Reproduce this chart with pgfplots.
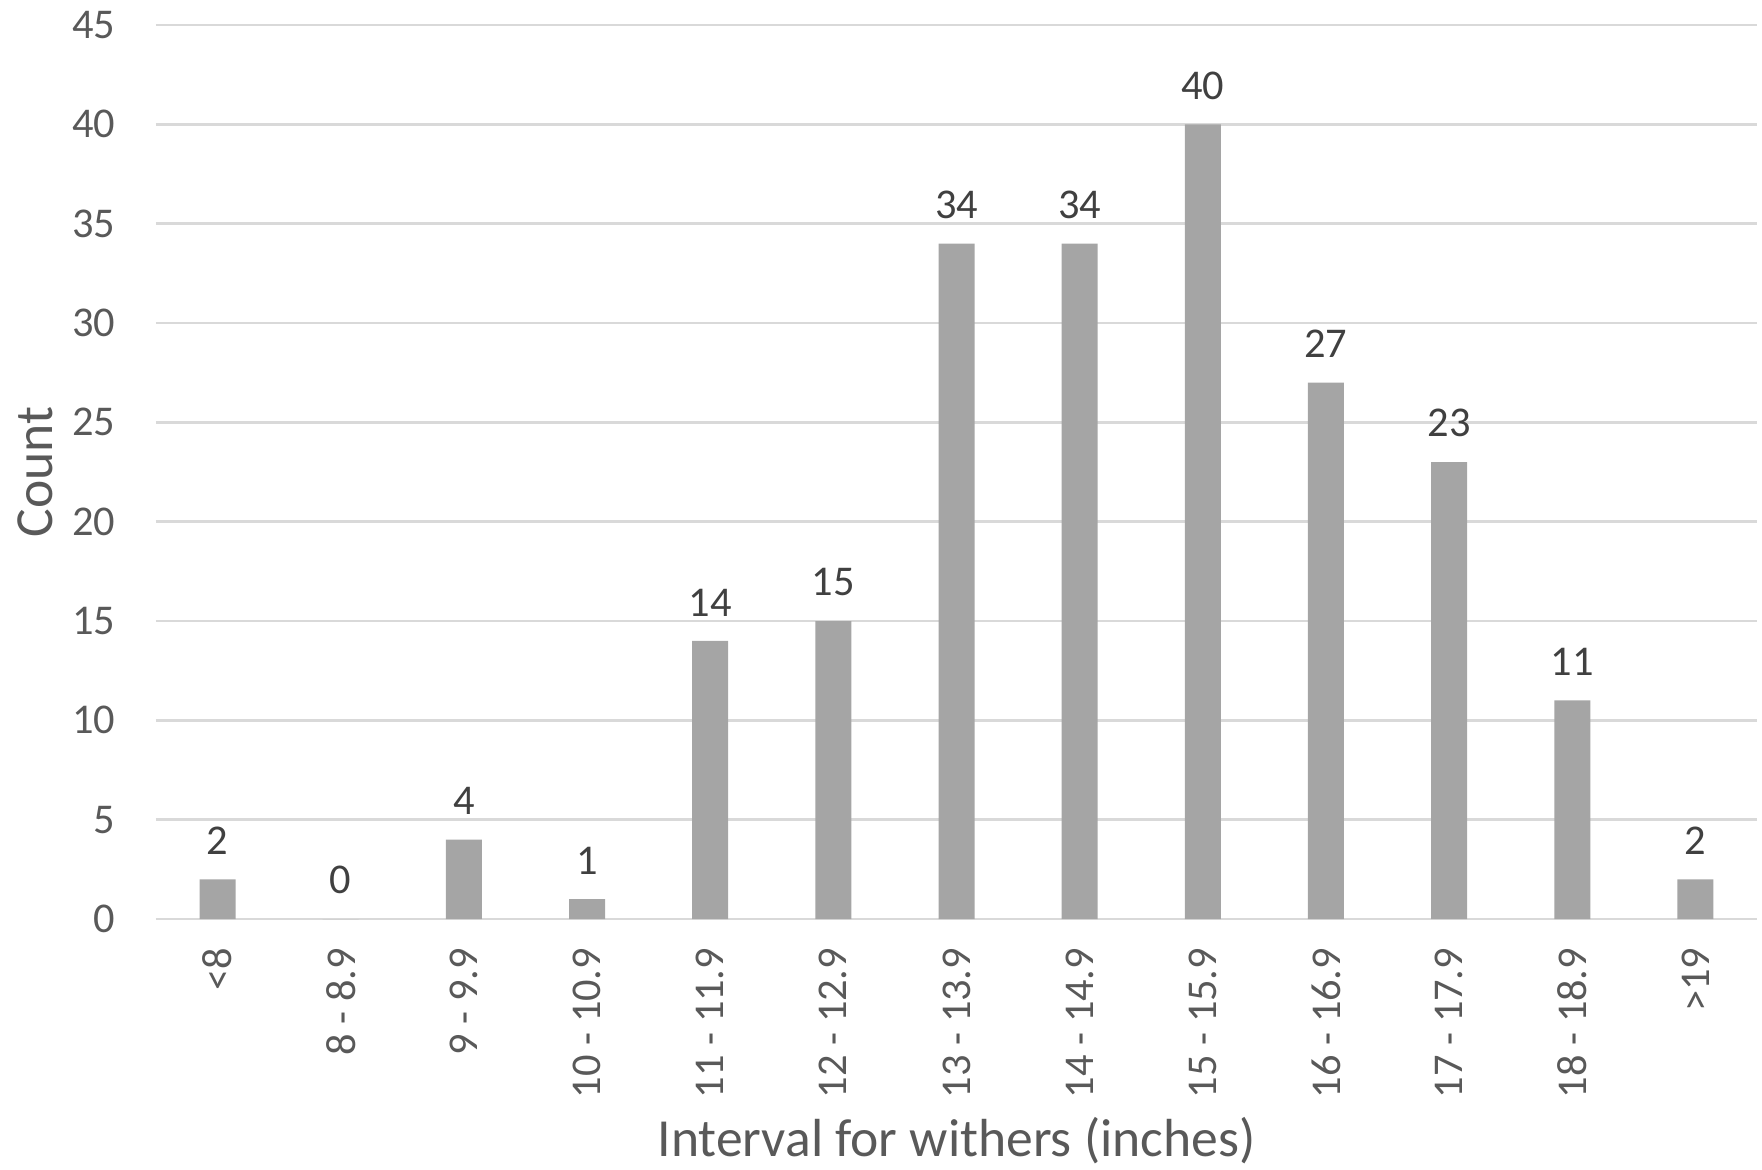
\documentclass[border=0pt]{standalone}
\usepackage{fontspec}
\setmainfont{Carlito}
\usepackage{pgfplots}
\pgfplotsset{compat=1.18}

\definecolor{bargray}{HTML}{A5A5A5}
\definecolor{gridgray}{HTML}{D9D9D9}
\definecolor{ticktext}{HTML}{595959}
\definecolor{labeltext}{HTML}{404040}

\begin{document}
\begin{tikzpicture}
\begin{axis}[
    scale only axis,
    width=400.25pt, height=223.5pt,
    /pgf/number format/assume math mode=true,
    xmin=-0.5, xmax=12.5,
    ymin=0, ymax=45,
    enlarge x limits=false, enlarge y limits=false,
    ytick={0,5,...,45},
    xtick={0,...,12},
    xticklabels={{<8},{8 - 8.9},{9 - 9.9},{10 - 10.9},{11 - 11.9},{12 - 12.9},{13 - 13.9},{14 - 14.9},{15 - 15.9},{16 - 16.9},{17 - 17.9},{18 - 18.9},{>19}},
    major tick length=0pt,
    axis x line*=bottom,
    axis y line*=left,
    x axis line style={gridgray, line width=0.6pt, -},
    y axis line style={draw=none},
    ymajorgrids,
    grid style={gridgray, line width=0.6pt},
    xticklabel style={rotate=90, anchor=east, inner sep=0pt, font=\fontsize{10.6pt}{12pt}\selectfont, text=ticktext},
    yticklabel style={anchor=east, inner sep=0pt, font=\fontsize{10.6pt}{12pt}\selectfont, text=ticktext},
    xticklabel shift=7pt,
    yticklabel shift=10pt,
    xlabel={Interval for withers (inches)},
    ylabel={Count},
    every axis x label/.style={at={(axis description cs:0.5,-0.248)}, anchor=center, font=\fontsize{13.4pt}{15pt}\selectfont, text=ticktext},
    every axis y label/.style={at={(axis description cs:-0.0755,0.5)}, rotate=90, anchor=center, font=\fontsize{13.4pt}{15pt}\selectfont, text=ticktext},
    ybar, bar width=9pt,
    nodes near coords,
    every node near coord/.append style={inner sep=0pt, yshift=6pt, font=\fontsize{10.6pt}{12pt}\selectfont, text=labeltext},
]
\addplot[fill=bargray, draw=none] coordinates {
    (0,2) (1,0) (2,4) (3,1) (4,14) (5,15) (6,34)
    (7,34) (8,40) (9,27) (10,23) (11,11) (12,2)
};
\end{axis}
\pgfresetboundingbox
\useasboundingbox (-39pt,-62.5pt) rectangle (401.5pt,229.75pt);
\end{tikzpicture}
\end{document}
